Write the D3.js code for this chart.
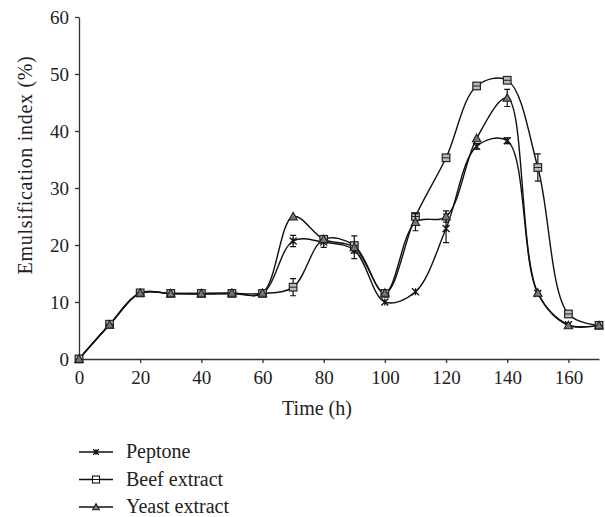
<!DOCTYPE html>
<html>
<head>
<meta charset="utf-8">
<script src="https://cdn.jsdelivr.net/npm/d3@7"></script>
<style>
  body { margin: 0; background: #fff; }
  svg text { font-family: "Liberation Serif", "DejaVu Serif", serif !important; fill: #222; }
</style>
</head>
<body>
<div id="chart"></div>
<script>
var hours = [0, 10, 20, 30, 40, 50, 60, 70, 80, 90, 100, 110, 120, 130, 140, 150, 160, 170];

var peptone = [0, 6, 11.5, 11.5, 11.4, 11.5, 11.5, 20.7, 20.5, 19.1, 10, 11.8, 22.9, 37.3, 38.3, 11.5, 6, 5.9];
var peptoneErr = [0, 0, 0, 0, 0, 0, 0, 1, 0.9, 0.5, 0, 0, 2.5, 0.5, 0.5, 0, 0, 0];

var beef = [0, 6.1, 11.6, 11.5, 11.5, 11.5, 11.5, 12.6, 21, 19.9, 11.5, 25, 35.3, 47.9, 48.9, 33.6, 7.9, 5.9];
var beefErr = [0, 0, 0, 0, 0, 0, 0, 1.5, 0, 0, 0, 0, 0, 0, 0, 2.4, 0, 0];

var yeast = [0, 6, 11.6, 11.5, 11.5, 11.6, 11.6, 25, 21, 19.6, 11.6, 24, 25, 38.7, 45.8, 11.6, 5.9, 5.9];
var yeastErr = [0, 0, 0, 0, 0, 0, 0, 0, 0, 2, 0, 1.5, 1, 0, 1.5, 0, 0, 0];

var seriesNames = ["Peptone", "Beef extract", "Yeast extract"];
var markerTypes = ["star", "square", "triangle"];
var xTicks = [0, 20, 40, 60, 80, 100, 120, 140, 160];
var yTicks = [0, 10, 20, 30, 40, 50, 60];

var W = 605, H = 517;
var svg = d3.select("#chart").append("svg")
    .attr("width", W)
    .attr("height", H);

var x = d3.scaleLinear().domain([0, 170]).range([79, 599]);
var y = d3.scaleLinear().domain([0, 60]).range([359, 17]);

// axes
var xAxis = d3.axisBottom(x).tickValues(xTicks).tickSizeInner(4).tickSizeOuter(0).tickPadding(8);
var gx = svg.append("g")
    .attr("transform", "translate(0," + y(0) + ")")
    .call(xAxis);
var yAxis = d3.axisLeft(y).tickValues(yTicks).tickSizeInner(4).tickSizeOuter(0).tickPadding(6);
var gy = svg.append("g")
    .attr("transform", "translate(" + x(0) + ",0)")
    .call(yAxis);
[gx, gy].forEach(function (g) {
    g.attr("font-family", null);
    g.selectAll("path, line").attr("stroke", "#333").attr("stroke-width", 1.3);
    g.selectAll("text").style("font-size", "19px").attr("fill", "#222");
});

svg.append("text")
    .attr("x", 317)
    .attr("y", 415)
    .attr("text-anchor", "middle")
    .style("font-size", "20px")
    .text("Time (h)");

svg.append("text")
    .attr("transform", "translate(32,165) rotate(-90)")
    .attr("text-anchor", "middle")
    .style("font-size", "20px")
    .style("letter-spacing", "0.7px")
    .text("Emulsification index (%)");

function drawMarker(g, type, cx, cy, sz) {
    if (type == "star") {
        var s = 3.5 * sz;
        g.append("path")
            .attr("d", "M" + (cx - s) + "," + (cy - s) + "L" + (cx + s) + "," + (cy + s) +
                "M" + (cx - s) + "," + (cy + s) + "L" + (cx + s) + "," + (cy - s) +
                "M" + cx + "," + (cy - s) + "L" + cx + "," + (cy + s))
            .attr("stroke", "#111")
            .attr("stroke-width", 1.3)
            .attr("fill", "none");
    } else if (type == "square") {
        var h = 3.8 * sz;
        g.append("rect")
            .attr("x", cx - h).attr("y", cy - h)
            .attr("width", 2 * h).attr("height", 2 * h)
            .attr("fill", "#bbb")
            .attr("stroke", "#222")
            .attr("stroke-width", 1.2);
        g.append("line")
            .attr("x1", cx - h).attr("x2", cx + h)
            .attr("y1", cy).attr("y2", cy)
            .attr("stroke", "#222").attr("stroke-width", 1);
    } else {
        var t = 4.2 * sz;
        g.append("path")
            .attr("d", "M" + cx + "," + (cy - t) + "L" + (cx + t) + "," + (cy + t * 0.8) +
                "L" + (cx - t) + "," + (cy + t * 0.8) + "Z")
            .attr("fill", "#777")
            .attr("stroke", "#222")
            .attr("stroke-width", 1.1);
    }
}

var allSeries = [peptone, beef, yeast];
var allErr = [peptoneErr, beefErr, yeastErr];

var line = d3.line()
    .x(function (d, i) { return x(hours[i]); })
    .y(function (d) { return y(d); })
    .curve(d3.curveCatmullRom.alpha(0.5));

allSeries.forEach(function (vals, k) {
    svg.append("path")
        .datum(vals)
        .attr("d", line)
        .attr("fill", "none")
        .attr("stroke", "#111")
        .attr("stroke-width", 1.4);
});

allSeries.forEach(function (vals, k) {
    var g = svg.append("g");
    vals.forEach(function (v, i) {
        var e = allErr[k][i];
        if (e > 0) {
            var cx = x(hours[i]);
            g.append("path")
                .attr("d", "M" + cx + "," + y(v - e) + "L" + cx + "," + y(v + e) +
                    "M" + (cx - 3) + "," + y(v - e) + "L" + (cx + 3) + "," + y(v - e) +
                    "M" + (cx - 3) + "," + y(v + e) + "L" + (cx + 3) + "," + y(v + e))
                .attr("stroke", "#111")
                .attr("stroke-width", 1.2)
                .attr("fill", "none");
        }
        drawMarker(g, markerTypes[k], x(hours[i]), y(v), 1);
    });
});

// legend
var legend = svg.append("g");
seriesNames.forEach(function (name, k) {
    var ly = 452 + k * 27.5;
    legend.append("line")
        .attr("x1", 79).attr("x2", 113)
        .attr("y1", ly).attr("y2", ly)
        .attr("stroke", "#111").attr("stroke-width", 1.3);
    if (markerTypes[k] == "square") {
        legend.append("rect")
            .attr("x", 92.5).attr("y", ly - 3.5)
            .attr("width", 7).attr("height", 7)
            .attr("fill", "#fff").attr("stroke", "#111").attr("stroke-width", 1.1);
        legend.append("line")
            .attr("x1", 92.5).attr("x2", 99.5).attr("y1", ly).attr("y2", ly)
            .attr("stroke", "#111").attr("stroke-width", 1);
    } else {
        drawMarker(legend, markerTypes[k], 96, ly, 0.8);
    }
    legend.append("text")
        .attr("x", 126)
        .attr("y", ly + 6)
        .style("font-size", "20px")
        .text(name);
});
</script>
</body>
</html>
